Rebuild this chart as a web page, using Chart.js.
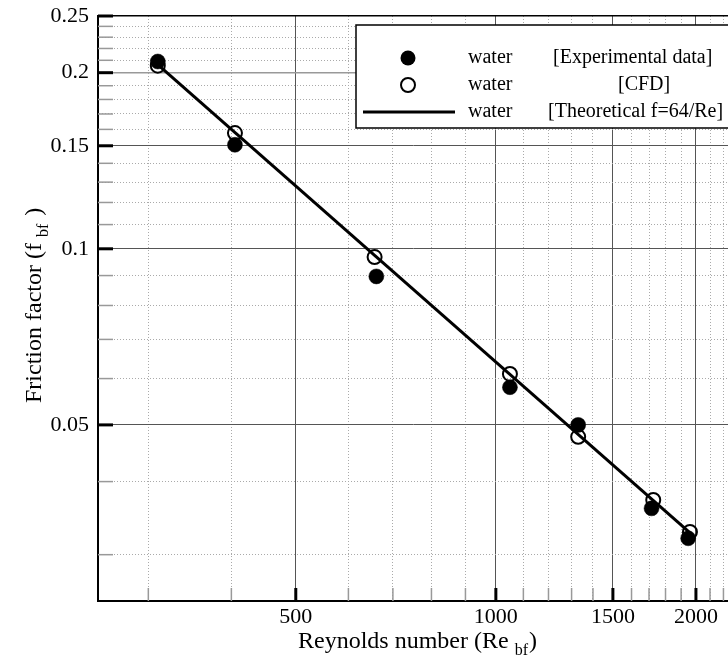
<!DOCTYPE html>
<html><head><meta charset="utf-8">
<script src="https://cdn.jsdelivr.net/npm/chart.js@4/dist/chart.umd.min.js"></script>
<style>html,body{margin:0;padding:0;background:#fff;overflow:hidden}#wrap{width:728px;height:657px;position:relative}</style>
</head><body><div id="wrap"><canvas id="c" width="728" height="657"></canvas></div>
<script>
// ---- data ----
const reExp  = [310, 405, 661, 1050, 1330, 1715, 1947];
const fExp   = [0.209, 0.1506, 0.0897, 0.058, 0.050, 0.036, 0.032];
const reCfd  = [310, 405, 657, 1050, 1330, 1725, 1959];
const fCfd   = [0.2056, 0.1577, 0.0968, 0.0611, 0.0477, 0.0372, 0.0328];
const reTheory = [310, 1960];
const fTheory  = [0.2065, 0.0327];

const xTicks = [300,400,500,600,700,800,900,1000,1100,1200,1300,1400,1500,1600,1700,1800,1900,2000,2100,2200];
const xLabels = [500, 1000, 1500, 2000];
const yTicks = [0.03,0.04,0.05,0.06,0.07,0.08,0.09,0.1,0.11,0.12,0.13,0.14,0.15,0.16,0.17,0.18,0.19,0.2,0.21,0.22,0.23,0.24,0.25];
const yLabels = [0.05, 0.1, 0.15, 0.2, 0.25];

const legendNames = ['water', 'water', 'water'];
const legendTags = ['[Experimental data]', '[CFD]', '[Theoretical f=64/Re]'];

const SERIF = "'Liberation Serif', 'Times New Roman', serif";

const toPts = (xs, ys) => xs.map((v, i) => ({x: v, y: ys[i]}));

const tickMarks = {
  id: 'tickMarks',
  beforeDatasetsDraw(chart) {
    const {ctx, chartArea: a, scales: {x, y}} = chart;
    ctx.save();
    y.ticks.forEach(t => {
      const p = y.getPixelForValue(t.value);
      const maj = yLabels.includes(t.value);
      if (t.value === 0.25) return;
      ctx.beginPath();
      ctx.lineWidth = maj ? 3 : 1.5;
      ctx.strokeStyle = maj ? '#000' : '#999';
      ctx.moveTo(a.left, p); ctx.lineTo(a.left + 15, p); ctx.stroke();
    });
    ctx.beginPath(); ctx.lineWidth = 3; ctx.strokeStyle = '#000';
    ctx.moveTo(a.left, a.top); ctx.lineTo(a.left + 15, a.top); ctx.stroke();
    x.ticks.forEach(t => {
      const p = x.getPixelForValue(t.value);
      const maj = xLabels.includes(t.value);
      ctx.beginPath();
      ctx.lineWidth = maj ? 3 : 1.5;
      ctx.strokeStyle = maj ? '#000' : '#999';
      ctx.moveTo(p, a.bottom); ctx.lineTo(p, a.bottom - 13); ctx.stroke();
    });
    ctx.restore();
  }
};

const titlesAndLegend = {
  id: 'titlesAndLegend',
  afterDraw(chart) {
    const ctx = chart.ctx;
    ctx.save();
    ctx.fillStyle = '#000';
    // x title
    ctx.textAlign = 'left'; ctx.textBaseline = 'alphabetic';
    ctx.font = '24px ' + SERIF;
    let x0 = 298;
    const main = 'Reynolds number (Re';
    ctx.fillText(main, x0, 648);
    let w = ctx.measureText(main).width;
    ctx.font = '16px ' + SERIF;
    ctx.fillText('bf', x0 + w + 6, 655);
    let w2 = ctx.measureText('bf').width;
    ctx.font = '24px ' + SERIF;
    ctx.fillText(')', x0 + w + 6 + w2 + 1, 648);
    // y title
    ctx.translate(41, 403);
    ctx.rotate(-Math.PI / 2);
    const ym = 'Friction factor (f';
    ctx.fillText(ym, 0, 0);
    w = ctx.measureText(ym).width;
    ctx.font = '16px ' + SERIF;
    ctx.fillText('bf', w + 6, 7);
    w2 = ctx.measureText('bf').width;
    ctx.font = '24px ' + SERIF;
    ctx.fillText(')', w + 6 + w2 + 8, 0);
    ctx.restore();

    // legend
    ctx.save();
    ctx.fillStyle = '#fff';
    ctx.fillRect(356, 25, 380, 103);
    ctx.strokeStyle = '#000'; ctx.lineWidth = 1.5;
    ctx.strokeRect(356, 25, 380, 103);
    const rows = [58, 85, 112];
    ctx.fillStyle = '#000';
    ctx.beginPath(); ctx.arc(408, rows[0], 7.5, 0, Math.PI * 2); ctx.fill();
    ctx.beginPath(); ctx.arc(408, rows[1], 7, 0, Math.PI * 2);
    ctx.lineWidth = 2; ctx.strokeStyle = '#000'; ctx.stroke();
    ctx.beginPath(); ctx.lineWidth = 3; ctx.moveTo(363, rows[2]); ctx.lineTo(455, rows[2]); ctx.stroke();
    ctx.font = '20px ' + SERIF;
    ctx.textBaseline = 'middle'; ctx.textAlign = 'left';
    const tagX = [553, 618, 548];
    rows.forEach((r, i) => {
      ctx.fillText(legendNames[i], 468, r);
      ctx.fillText(legendTags[i], tagX[i], r);
    });
    ctx.restore();
  }
};

const gridColorX = c => (c.tick && xLabels.includes(c.tick.value)) ? '#555' : '#aaa';
const gridColorY = c => {
  if (!c.tick) return '#aaa';
  const v = c.tick.value;
  if (v === 0.25) return '#000';
  if (v === 0.2) return '#999';
  return yLabels.includes(v) ? '#555' : '#aaa';
};

new Chart(document.getElementById('c'), {
  type: 'scatter',
  data: {
    datasets: [
      { label: 'water [Theoretical f=64/Re]', type: 'line', data: toPts(reTheory, fTheory),
        borderColor: '#000', borderWidth: 3, pointRadius: 0, fill: false, tension: 0 },
      { label: 'water [Experimental data]', data: toPts(reExp, fExp),
        backgroundColor: '#000', borderColor: '#000', pointRadius: 7.5, borderWidth: 0.5, pointStyle: 'circle' },
      { label: 'water [CFD]', data: toPts(reCfd, fCfd),
        backgroundColor: 'rgba(0,0,0,0)', borderColor: '#000', pointRadius: 7, borderWidth: 2, pointStyle: 'circle' }
    ]
  },
  options: {
    responsive: false, animation: false, devicePixelRatio: 1,
    layout: { autoPadding: false, padding: { top: 16, right: 0, left: 0, bottom: 0 } },
    plugins: { legend: { display: false }, tooltip: { enabled: false } },
    scales: {
      x: {
        type: 'logarithmic', min: 252, max: 2235,
        afterBuildTicks: s => { s.ticks = xTicks.map(v => ({ value: v, major: false })); },
        afterFit: s => { s.height = 56; s.paddingLeft = 0; s.paddingRight = 0; },
        ticks: { autoSkip: false, maxRotation: 0, minRotation: 0, padding: 3, color: '#000',
          font: { family: SERIF, size: 22 },
          callback: v => xLabels.includes(v) ? String(v) : '' },
        grid: { drawTicks: false, color: gridColorX, lineWidth: 1 },
        border: { color: '#000', width: 2,
          dash: c => (c.tick && !xLabels.includes(c.tick.value)) ? [1, 2] : [] }
      },
      y: {
        type: 'logarithmic', min: 0.025, max: 0.25,
        afterBuildTicks: s => { s.ticks = yTicks.map(v => ({ value: v, major: false })); },
        afterFit: s => { s.width = 98; s.paddingTop = 0; s.paddingBottom = 0; },
        ticks: { autoSkip: false, padding: 9, color: '#000',
          font: { family: SERIF, size: 22 },
          callback: v => yLabels.includes(v) ? String(v) : '' },
        grid: { drawTicks: false, color: gridColorY,
          lineWidth: c => (c.tick && (c.tick.value === 0.25 || c.tick.value === 0.2)) ? 1.5 : 1 },
        border: { color: '#000', width: 2,
          dash: c => (c.tick && !yLabels.includes(c.tick.value)) ? [1, 2] : [] }
      }
    }
  },
  plugins: [tickMarks, titlesAndLegend]
});
</script>
</body></html>
